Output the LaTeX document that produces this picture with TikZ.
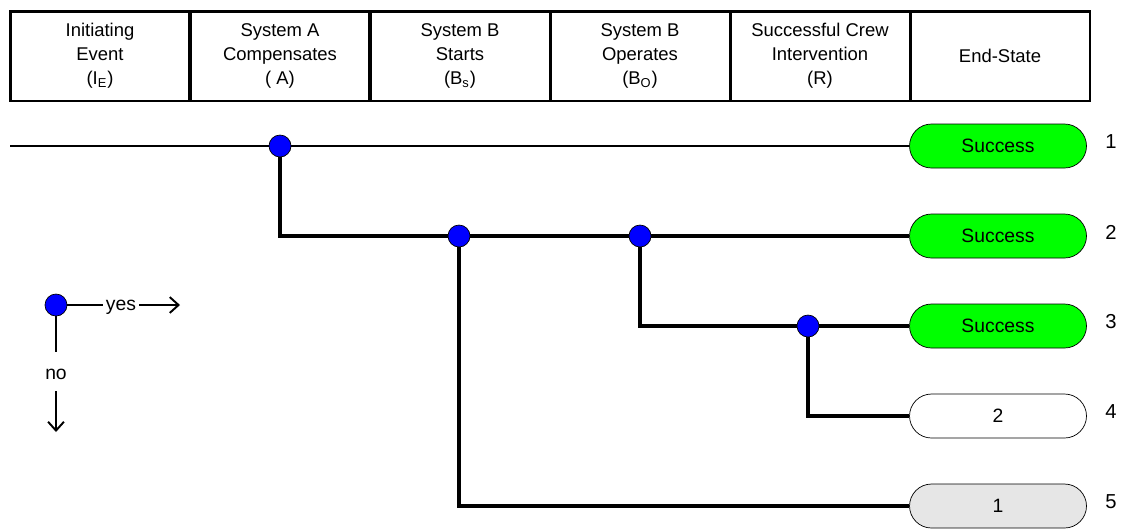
\documentclass[tikz,border=0pt]{standalone}
\usepackage{fontspec}
\setmainfont{Liberation Sans}
\usetikzlibrary{arrows.meta,backgrounds}
\definecolor{dotblue}{RGB}{0,0,255}
\definecolor{okgreen}{RGB}{0,255,0}
\definecolor{lightgrey}{RGB}{230,230,230}
\tikzset{
  head/.style={draw, line width=1.7pt, minimum width=3.6cm, minimum height=1.8cm,
    inner sep=0pt, align=center, font=\fontsize{10.5}{13.6}\selectfont},
  branch/.style={circle, draw, thin, fill=dotblue, minimum size=0.44cm, inner sep=0pt},
  endstate/.style={draw, thin, rounded corners=0.44cm, minimum width=3.54cm,
    minimum height=0.88cm, inner sep=0pt, font=\fontsize{11}{12}\selectfont},
  thinline/.style={line width=1.1pt},
  thickline/.style={line width=2.3pt},
  seqno/.style={font=\fontsize{11.5}{12}\selectfont}
}
\begin{document}
\begin{tikzpicture}[x=0.02cm, y=-0.02cm]
    \useasboundingbox (0,0) rectangle (1124,529);

    % Column headings
    \node[head] (hIE) at (100,56) {Initiating\\Event\\(I\textsubscript{E})};
    \node[head] (hA)  at (280,56) {System A\\Compensates\\( A)};
    \node[head] (hBs) at (460,56) {System B\\Starts\\(B\textsubscript{s})};
    \node[head] (hBo) at (640,56) {System B\\Operates\\(B\textsubscript{O})};
    \node[head] (hR)  at (820,56) {Successful Crew\\Intervention\\(R)};
    \node[head] (hES) at (1000,56) {End-State};

    % Branch points
    \coordinate (start) at (10,146);
    \node[branch] (bA)  at (280,146) {};
    \node[branch] (bBs) at (459,236) {};
    \node[branch] (bBo) at (640,236) {};
    \node[branch] (bR)  at (808,326) {};

    % End states
    \node[endstate, fill=okgreen]    (e1) at (998,146) {Success};
    \node[endstate, fill=okgreen]    (e2) at (998,236) {Success};
    \node[endstate, fill=okgreen]    (e3) at (998,326) {Success};
    \node[endstate, fill=white]      (e4) at (998,416) {2};
    \node[endstate, fill=lightgrey]  (e5) at (998,506) {1};
    \foreach \i/\y in {1/146,2/236,3/326,4/416,5/506}
        \node[seqno] (n\i) at (1111,\y-4) {\i};

    % Sequence lines
    \begin{scope}[on background layer]
        \draw[thinline] (start) -- (bA) -- (e1.west);
        \draw[thickline] (bA) |- (bBs) -- (bBo) -- (e2.west);
        \draw[thickline] (bBo) |- (bR) -- (e3.west);
        \draw[thickline] (bR) |- (e4.west);
        \draw[thickline] (bBs) |- (e5.west);
    \end{scope}

    % Legend
    \node[branch] (lg) at (56,305) {};
    \node[font=\fontsize{11}{12}\selectfont, inner sep=1.5pt] (yes) at (121,307) {yes};
    \node[font=\fontsize{11}{12}\selectfont, inner sep=1pt] (no) at (56,374) {no};
    \coordinate (yesend) at (180,305);
    \coordinate (noend) at (56,432);
    \begin{scope}[on background layer]
        \draw[thinline] (lg) -- (yes.west |- lg);
        \draw[thinline] (lg) -- (56,352);
    \end{scope}
    \draw[thinline, -{Straight Barb[length=5pt, width=9pt]}] (yes.east |- lg) -- (yesend);
    \draw[thinline, -{Straight Barb[length=5pt, width=9pt]}] (56,391) -- (noend);
\end{tikzpicture}
\end{document}
